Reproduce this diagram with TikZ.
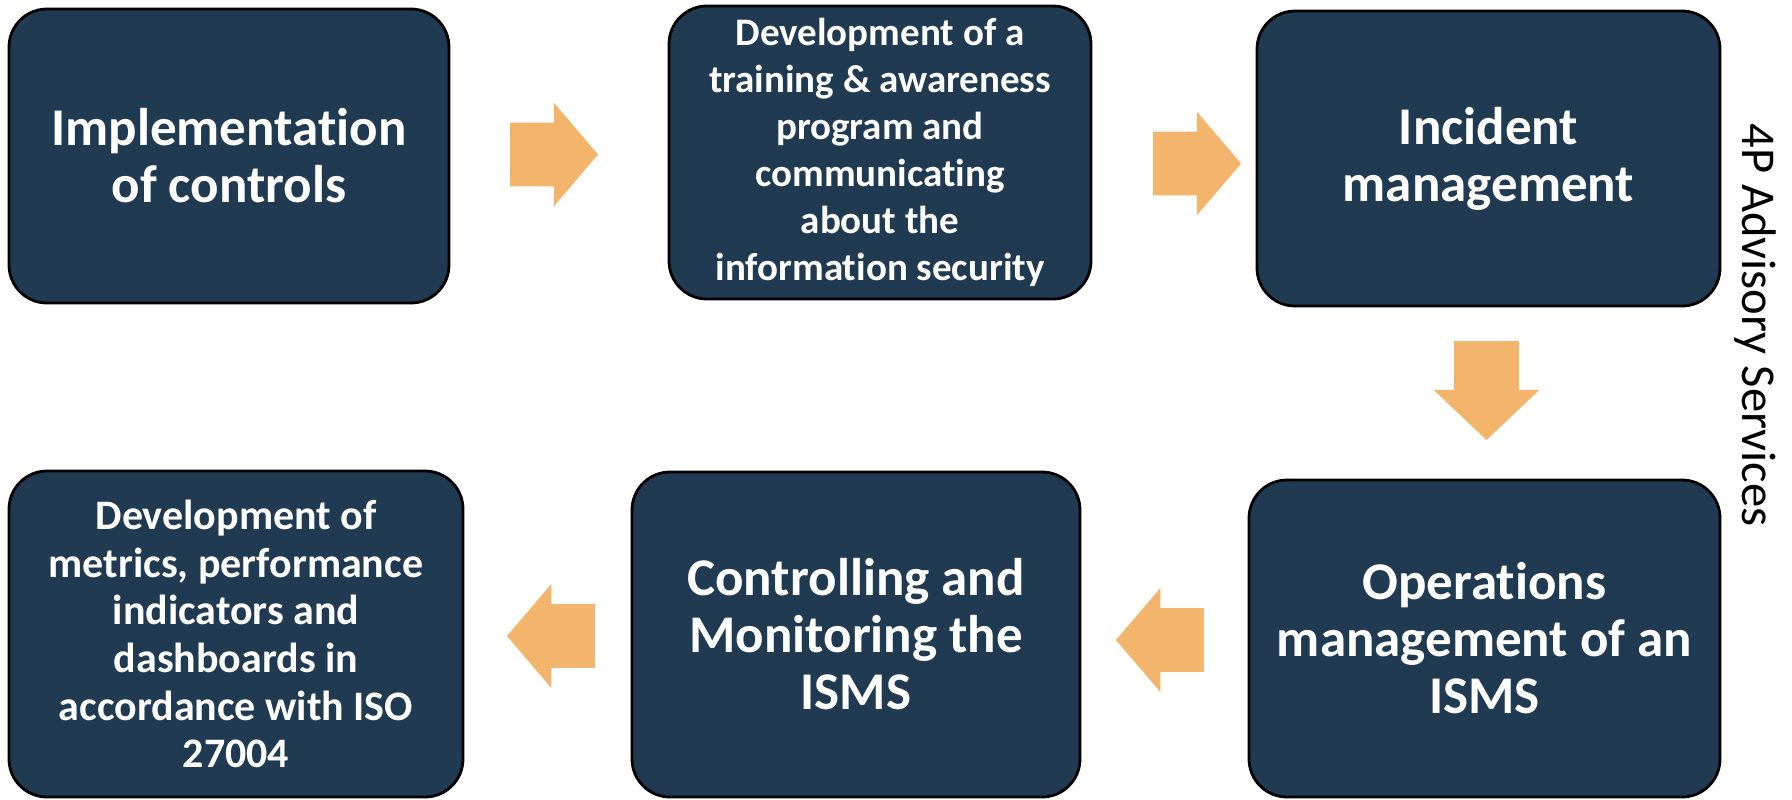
\documentclass[tikz,border=0pt]{standalone}
\usepackage{fontspec}
\setmainfont{Carlito}[Ligatures=NoCommon]
\usetikzlibrary{shapes.arrows,calc}

\definecolor{boxblue}{HTML}{203A51}
\definecolor{arroworange}{HTML}{F3B56C}

\tikzset{
  stepbox/.style={draw=black, line width=1.4pt, fill=boxblue, rounded corners=19pt,
    text=white, align=center, inner sep=0pt},
  bigtext/.style={font=\fontsize{26.5}{28.5}\selectfont\bfseries},
  smalltext/.style={font=\fontsize{19.5}{23.5}\selectfont\bfseries},
  flowarrow/.style={single arrow, fill=arroworange, draw=none, inner xsep=0pt, inner ysep=15.75pt,
    minimum height=44pt, single arrow head extend=10pt,
    single arrow tip angle=99, anchor=tip},
}

\begin{document}
\begin{tikzpicture}[x=0.5pt,y=-0.5pt]
  \useasboundingbox (0,0) rectangle (1792,799);

  % top row
  \node[stepbox, bigtext, minimum width=220pt, minimum height=147pt] (impl) at (229,156)
    {Implementation\\of controls};
  \node[stepbox, smalltext, minimum width=211pt, minimum height=146.5pt] (train) at (880,152.5)
    {Development of a\\training \& awareness\\program and\\communicating\\about the\\information security};
  \node[stepbox, bigtext, minimum width=231.5pt, minimum height=147.5pt] (incident) at (1488.5,158.5)
    {Incident\\management};

  % bottom row
  \node[stepbox, bigtext, minimum width=235.5pt, minimum height=158.5pt] (ops) at (1484.5,638.5)
    {Operations\\management of an\\ISMS};
  \node[stepbox, bigtext, minimum width=224pt, minimum height=162.5pt] (ctrl) at (856,634.5)
    {Controlling and\\Monitoring the\\ISMS};
  \node[stepbox, smalltext, font=\fontsize{21}{23.8}\selectfont\bfseries,
    minimum width=227pt, minimum height=163pt] (metrics) at (236,634)
    {Development of\\metrics, performance\\indicators and\\dashboards in\\accordance with ISO\\27004};

  % block arrows
  \node[flowarrow] (a1) at ($(train.west)+(-69,2)$) {};
  \node[flowarrow] (a2) at ($(incident.west)+(-14,5)$) {};
  \node[flowarrow, shape border rotate=270, minimum height=49.5pt, inner xsep=16pt, inner ysep=0pt,
    single arrow head extend=10.25pt, single arrow tip angle=93] (a3) at ($(ops.north)+(2,-38)$) {};
  \node[flowarrow, shape border rotate=180] (a4) at ($(ctrl.east)+(34,5.5)$) {};
  \node[flowarrow, shape border rotate=180] (a5) at ($(metrics.east)+(42,2)$) {};

  \node[font=\fontsize{24.3}{29}\selectfont, rotate=-90] (brand) at (1755,325) {4P Advisory Services};
\end{tikzpicture}
\end{document}
